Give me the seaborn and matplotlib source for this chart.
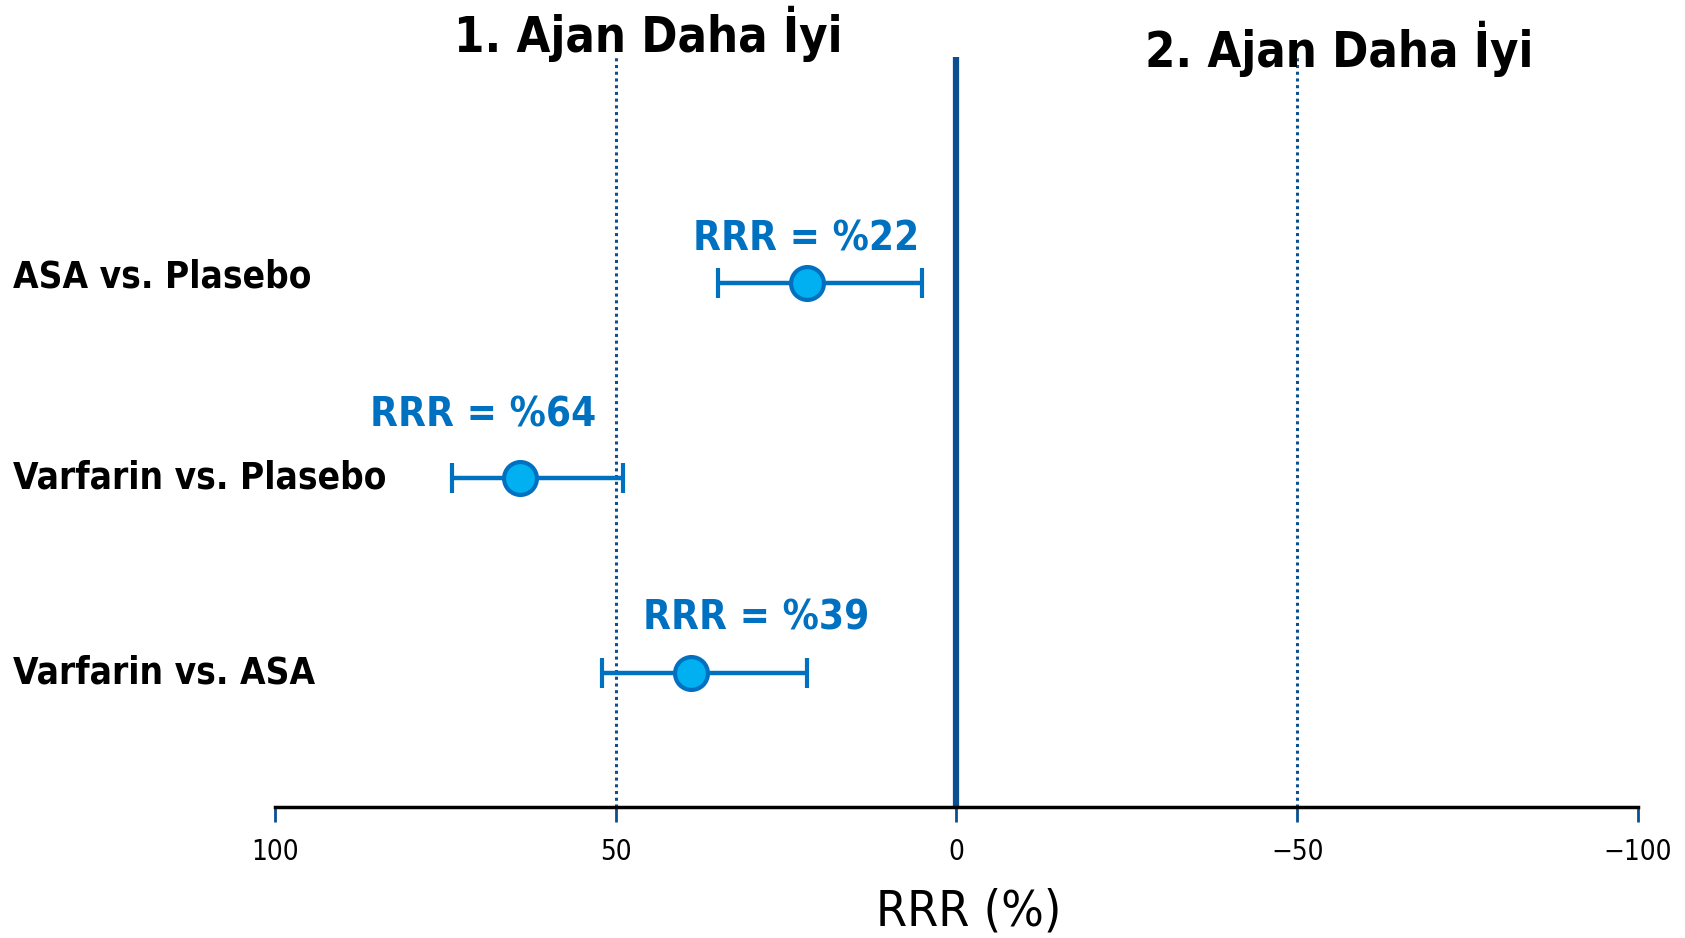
import matplotlib
matplotlib.use("Agg")
import matplotlib.pyplot as plt
import matplotlib.transforms as mtransforms
import seaborn as sns
import pandas as pd

# ---- data ----
comparisons = ["ASA vs. Plasebo", "Varfarin vs. Plasebo", "Varfarin vs. ASA"]
rrr = [22, 64, 39]
ci_low = [5, 49, 22]     # lower RRR bound (toward 0)
ci_high = [35, 74, 52]   # upper RRR bound
labels = ["RRR = %22", "RRR = %64", "RRR = %39"]
xticks = [100, 50, 0, -50, -100]
header_left = "1. Ajan Daha İyi"
header_right = "2. Ajan Daha İyi"
xlabel = "RRR (%)"

sns.set_theme(style="white")
plt.rcParams['font.family'] = ['DejaVu Sans']
plt.rcParams['font.stretch'] = 'condensed'
plt.rcParams['text.color'] = 'black'
plt.rcParams['axes.labelcolor'] = 'black'
plt.rcParams['xtick.color'] = 'black'
plt.rcParams['axes.unicode_minus'] = True

df = pd.DataFrame({"comp": comparisons, "rrr": rrr, "lo": ci_low, "hi": ci_high,
                   "ypos": [3, 2, 1]})

fig = plt.figure(figsize=(16.85, 9.38), dpi=100)
ax = fig.add_axes([0.1632, 0.1397, 0.9721 - 0.1632, 0.939 - 0.1397])

dark = "#0B4F91"
mid = "#0070C0"
light = "#00B0F0"

ax.set_xlim(100, -100)
ax.set_ylim(0.311, 4.156)

# reference lines
ax.axvline(0, color=dark, lw=4.5, zorder=1)
for v in (50, -50):
    ax.axvline(v, color=dark, lw=2.2, ls=(0, (1, 1.2)), zorder=1)

# error bars
for r in df.itertuples():
    ax.errorbar([r.rrr], [r.ypos], xerr=[[r.rrr - r.lo], [r.hi - r.rrr]],
                fmt="none", ecolor=mid, elinewidth=3.2, capsize=11, capthick=3, zorder=2)

sns.scatterplot(data=df, x="rrr", y="ypos", ax=ax, s=560, color=light,
                edgecolor=mid, linewidth=3, zorder=3, legend=False)

# annotations
label_dx = [0, 5.5, -9.6]
label_dy = [0.22, 0.32, 0.28]
for r, lab, dx, dy in zip(df.itertuples(), labels, label_dx, label_dy):
    ax.text(r.rrr + dx, r.ypos + dy, lab, color=mid, fontsize=29, fontweight="bold",
            ha="center", va="center")

# row labels
trans = mtransforms.blended_transform_factory(fig.transFigure, ax.transData)
row_dy = [0.03, 0, 0]
for r, dy in zip(df.itertuples(), row_dy):
    ax.text(0.008, r.ypos + dy, r.comp, transform=trans, fontsize=26.5, fontweight="bold",
            ha="left", va="center", color="black")

# headers
fig.text(0.385, 0.964, header_left, fontsize=35, fontweight="bold", ha="center", va="center")
fig.text(0.795, 0.948, header_right, fontsize=35, fontweight="bold", ha="center", va="center")

# axes styling
for s in ("top", "right", "left"):
    ax.spines[s].set_visible(False)
ax.spines["bottom"].set_color("black")
ax.spines["bottom"].set_linewidth(2.5)
ax.set_yticks([])
ax.set_xticks(xticks)
ax.set_xticklabels([("−" + str(-t)) if t < 0 else str(t) for t in xticks])
ax.tick_params(axis="x", direction="out", length=11, width=2, color=dark,
               labelcolor="black", labelsize=20, pad=11, bottom=True)
ax.set_xlabel(xlabel, fontsize=36)
ax.xaxis.label.set_va("center")
ax.xaxis.set_label_coords(0.509, -0.139)
ax.set_ylabel("")

fig.savefig("out.png", dpi=100)
